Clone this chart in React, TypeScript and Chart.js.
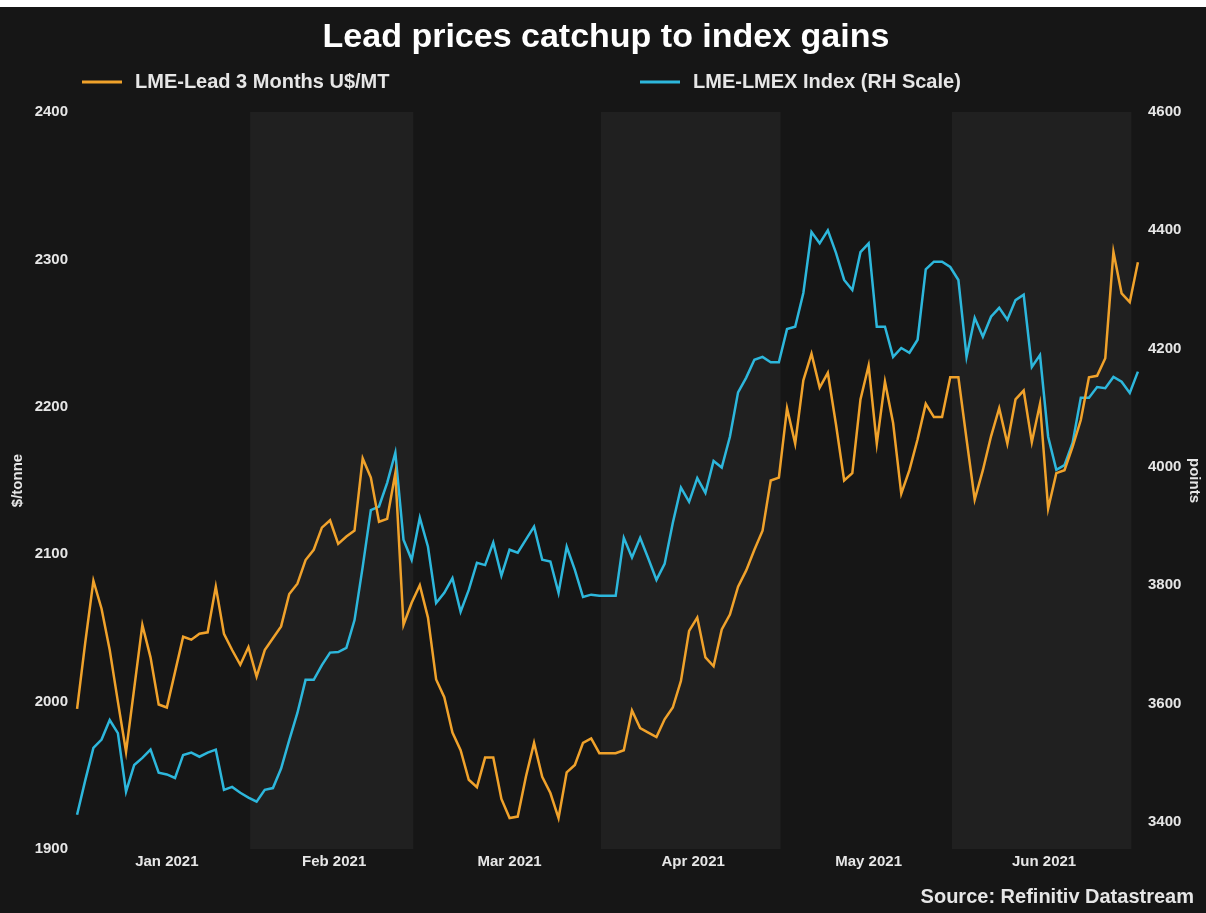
import React, { useEffect, useRef } from "react";
import { Chart, registerables } from "chart.js";

Chart.register(...registerables);

// ---------------- data ----------------
const titleText = "Lead prices catchup to index gains";
const seriesNames = ["LME-Lead 3 Months U$/MT", "LME-LMEX Index (RH Scale)"];
const sourceText = "Source: Refinitiv Datastream";
const leftAxisTitle = "$/tonne";
const rightAxisTitle = "points";

// daily (weekday) observations starting on this date
const firstDate = "2020-12-31";

const leadPrices = [
  1995, 2040, 2082, 2063, 2035, 2000, 1966, 2009, 2052, 2030,
  1998, 1996, 2020, 2044, 2042, 2046, 2047, 2078, 2046, 2035,
  2025, 2037, 2017, 2035, 2043, 2051, 2073, 2080, 2096, 2103,
  2118, 2123, 2107, 2112, 2116, 2165, 2152, 2122, 2124, 2155,
  2052, 2067, 2079, 2057, 2015, 2003, 1979, 1967, 1947, 1942,
  1962, 1962, 1934, 1921, 1922, 1949, 1972, 1949, 1938, 1921,
  1952, 1957, 1972, 1975, 1965, 1965, 1965, 1967, 1994, 1982,
  1979, 1976, 1988, 1996, 2014, 2048, 2057, 2030, 2024, 2049,
  2059, 2078, 2089, 2103, 2116, 2150, 2152, 2199, 2175, 2218,
  2236, 2213, 2223, 2188, 2150, 2155, 2205, 2228, 2175, 2217,
  2189, 2141, 2157, 2178, 2202, 2193, 2193, 2220, 2220, 2178,
  2137, 2157, 2180, 2199, 2175, 2205, 2211, 2176, 2202, 2131,
  2155, 2157, 2173, 2191, 2220, 2221, 2233, 2305, 2277, 2271,
  2298,
];

const lmexIndex = [
  3412, 3470, 3525, 3539, 3572, 3550, 3451, 3496, 3508, 3522,
  3483, 3480, 3474, 3513, 3517, 3510, 3517, 3522, 3454, 3459,
  3449, 3441, 3434, 3454, 3457, 3490, 3538, 3584, 3640, 3640,
  3665, 3686, 3687, 3694, 3741, 3831, 3927, 3933, 3973, 4024,
  3877, 3843, 3914, 3865, 3770, 3787, 3812, 3755, 3792, 3838,
  3834, 3872, 3816, 3860, 3855, 3877, 3899, 3843, 3840, 3787,
  3865, 3826, 3780, 3784, 3782, 3782, 3782, 3880, 3847, 3880,
  3845, 3809, 3836, 3905, 3965, 3941, 3981, 3956, 4010, 3999,
  4051, 4126, 4151, 4181, 4186, 4177, 4177, 4233, 4237, 4294,
  4397, 4378, 4400, 4362, 4316, 4299, 4363, 4378, 4237, 4237,
  4186, 4201, 4193, 4215, 4334, 4347, 4347, 4338, 4316, 4186,
  4252, 4220, 4254, 4269, 4249, 4282, 4291, 4169, 4189, 4051,
  3995, 4003, 4041, 4117, 4117, 4135, 4133, 4152, 4144, 4125,
  4161,
];

const leftTicks = [1900, 2000, 2100, 2200, 2300, 2400];
const rightTicks = [3400, 3600, 3800, 4000, 4200, 4400, 4600];
const monthTickLabels = ["Jan 2021", "Feb 2021", "Mar 2021", "Apr 2021", "May 2021", "Jun 2021"];

// ---------------- style ----------------
const W = 1206;
const H = 913;
const TOP_STRIP = 7;
const CH = H - TOP_STRIP;
const BG = "#161616";
const BAND = "#202020";
const ORANGE = "#F0A22B";
const BLUE = "#2DB7DC";
const TEXT = "#e6e6e6";
const FONT = "'Liberation Sans', Arial, Helvetica, sans-serif";

function weekdayDates(start: string, n: number): Date[] {
  const out: Date[] = [];
  const d = new Date(start + "T00:00:00Z");
  while (out.length < n) {
    const wd = d.getUTCDay();
    if (wd !== 0 && wd !== 6) out.push(new Date(d.getTime()));
    d.setUTCDate(d.getUTCDate() + 1);
  }
  return out;
}

type Group = { year: number; month: number; first: number; last: number };

function monthGroups(dates: Date[]): Group[] {
  const groups: Group[] = [];
  dates.forEach((d, i) => {
    const y = d.getUTCFullYear();
    const m = d.getUTCMonth();
    const g = groups[groups.length - 1];
    if (g && g.year === y && g.month === m) g.last = i;
    else groups.push({ year: y, month: m, first: i, last: i });
  });
  return groups;
}

export default function App() {
  const ref = useRef<HTMLCanvasElement | null>(null);

  useEffect(() => {
    const canvas = ref.current;
    if (!canvas) return;
    const n = leadPrices.length;
    const dates = weekdayDates(firstDate, n);
    const groups = monthGroups(dates);
    const labelled = groups.filter((g) => g.year === 2021 && g.month <= 5);
    const monthCenters = labelled.map((g) => (g.first + g.last) / 2);
    const shaded = groups.filter((g) => g.year === 2021 && (g.month === 1 || g.month === 3 || g.month === 5));

    const decor = {
      id: "decor",
      beforeDraw(chart: any) {
        const { ctx, chartArea, scales } = chart;
        ctx.save();
        ctx.fillStyle = BG;
        ctx.fillRect(0, 0, chart.width, chart.height);
        const xs = scales.x;
        ctx.fillStyle = BAND;
        for (const g of shaded) {
          const x0 = Math.max(chartArea.left, xs.getPixelForValue(g.first - 0.8));
          const x1 = Math.min(chartArea.right, xs.getPixelForValue(g.last + 0.2));
          ctx.fillRect(x0, chartArea.top, x1 - x0, chartArea.bottom - chartArea.top);
        }
        ctx.restore();
      },
      afterDraw(chart: any) {
        const { ctx } = chart;
        ctx.save();
        // title
        ctx.fillStyle = "#ffffff";
        ctx.font = `bold 34px ${FONT}`;
        ctx.textAlign = "center";
        ctx.textBaseline = "middle";
        ctx.fillText(titleText, 606, 38 - TOP_STRIP);
        // legend
        const items = [
          { x: 82, color: ORANGE, text: seriesNames[0] },
          { x: 640, color: BLUE, text: seriesNames[1] },
        ];
        ctx.font = `bold 20px ${FONT}`;
        ctx.textAlign = "left";
        for (const it of items) {
          const y = 82 - TOP_STRIP;
          ctx.strokeStyle = it.color;
          ctx.lineWidth = 3;
          ctx.beginPath();
          ctx.moveTo(it.x, y);
          ctx.lineTo(it.x + 40, y);
          ctx.stroke();
          ctx.fillStyle = TEXT;
          ctx.fillText(it.text, it.x + 53, y);
        }
        // source
        ctx.font = `bold 20px ${FONT}`;
        ctx.textAlign = "right";
        ctx.fillStyle = TEXT;
        ctx.fillText(sourceText, 1194, 897 - TOP_STRIP);
        ctx.restore();
      },
    };

    const chart = new Chart(canvas, {
      type: "line",
      data: {
        datasets: [
          {
            label: seriesNames[0],
            data: leadPrices.map((v, i) => ({ x: i, y: v })),
            yAxisID: "yL",
            borderColor: ORANGE,
            borderWidth: 2.5,
            pointRadius: 0,
            tension: 0,
            fill: false,
          },
          {
            label: seriesNames[1],
            data: lmexIndex.map((v, i) => ({ x: i, y: v })),
            yAxisID: "yR",
            borderColor: BLUE,
            borderWidth: 2.5,
            pointRadius: 0,
            tension: 0,
            fill: false,
          },
        ],
      },
      options: {
        responsive: false,
        animation: false,
        events: [],
        layout: { padding: { top: 112 - TOP_STRIP, bottom: 0, left: 0, right: 0 } },
        plugins: {
          legend: { display: false },
          title: { display: false },
          tooltip: { enabled: false },
        },
        scales: {
          x: {
            type: "linear",
            min: -0.5,
            max: n - 0.5,
            grid: { display: false, drawTicks: false },
            border: { display: false },
            afterBuildTicks: (s: any) => {
              s.ticks = monthCenters.map((v) => ({ value: v }));
            },
            afterFit: (s: any) => {
              s.height = CH - (849 - TOP_STRIP);
            },
            ticks: {
              autoSkip: false,
              maxRotation: 0,
              padding: 4,
              color: TEXT,
              font: { family: FONT, size: 15, weight: "bold" },
              callback: (_v: any, i: number) => monthTickLabels[i],
            },
          },
          yL: {
            type: "linear",
            position: "left",
            min: leftTicks[0],
            max: leftTicks[leftTicks.length - 1],
            grid: { display: false, drawTicks: false },
            border: { display: false },
            afterBuildTicks: (s: any) => {
              s.ticks = leftTicks.map((v) => ({ value: v }));
            },
            afterFit: (s: any) => {
              s.width = 73;
            },
            ticks: {
              padding: 5,
              color: TEXT,
              font: { family: FONT, size: 15, weight: "bold" },
              callback: (v: any) => String(v),
            },
            title: {
              display: true,
              text: leftAxisTitle,
              color: TEXT,
              font: { family: FONT, size: 15, weight: "bold" },
              padding: { top: 9, bottom: 0 },
            },
          },
          yR: {
            type: "linear",
            position: "right",
            min: 3354,
            max: 4600,
            grid: { display: false, drawTicks: false },
            border: { display: false },
            afterBuildTicks: (s: any) => {
              s.ticks = rightTicks.map((v) => ({ value: v }));
            },
            afterFit: (s: any) => {
              s.width = W - 1142;
            },
            ticks: {
              padding: 6,
              color: TEXT,
              font: { family: FONT, size: 15, weight: "bold" },
              callback: (v: any) => String(v),
            },
            title: {
              display: true,
              text: rightAxisTitle,
              color: TEXT,
              font: { family: FONT, size: 15, weight: "bold" },
              padding: { top: 3, bottom: 0 },
            },
          },
        },
      } as any,
      plugins: [decor],
    });
    return () => chart.destroy();
  }, []);

  return (
    <div
      style={{
        position: "absolute",
        left: 0,
        top: 0,
        width: W,
        height: H,
        background: "#ffffff",
        overflow: "hidden",
      }}
    >
      <canvas
        ref={ref}
        width={W}
        height={CH}
        style={{ position: "absolute", left: 0, top: TOP_STRIP, width: W, height: CH }}
      />
    </div>
  );
}
